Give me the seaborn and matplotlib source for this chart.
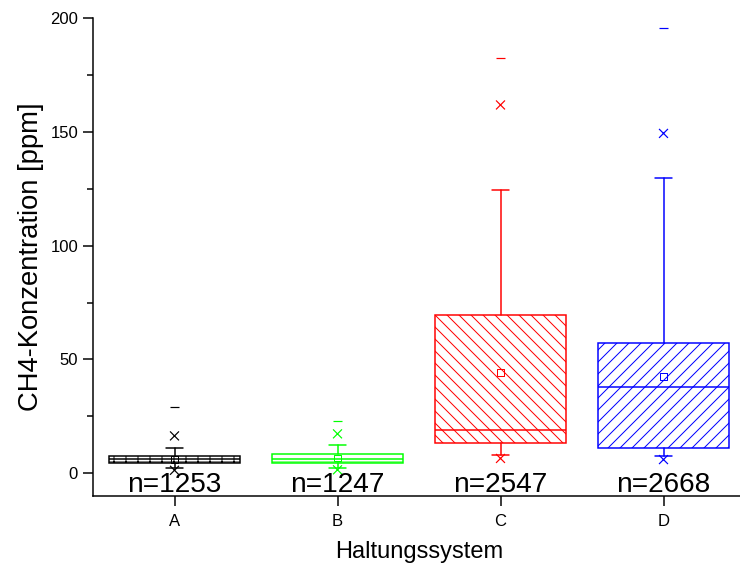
import numpy as np
import pandas as pd
import matplotlib
matplotlib.use("Agg")
import matplotlib.pyplot as plt
import seaborn as sns

# Datos (percentiles de cada sistema)
systems = ["A", "B", "C", "D"]
n_obs = [1253, 1247, 2547, 2668]
q1 = [4.3, 4.3, 13.3, 11.1]
median = [6.2, 6.3, 19.0, 37.7]
q3 = [7.6, 8.4, 69.5, 57.3]
mean = [6.0, 6.7, 44.1, 42.6]
p5 = [2.1, 2.1, 7.9, 7.6]
p95 = [11.3, 12.3, 124.4, 129.7]
p1 = [1.3, 1.5, 6.5, 6.0]
p99 = [16.4, 17.3, 161.8, 149.3]
vmax = [29.3, 23.0, 182.6, 195.7]

colors = ["#000000", "#00ff00", "#ff0000", "#0000ff"]
hatches = ["++", "--", "\\\\\\\\", "////"]

sns.set_theme(style="ticks", rc={"text.color": "black", "axes.labelcolor": "black",
                                 "xtick.color": "black", "ytick.color": "black"})
plt.rcParams["font.family"] = ["Liberation Sans", "DejaVu Sans"]
plt.rcParams["hatch.linewidth"] = 0.5

DPI = 144
fig = plt.figure(figsize=(740 / DPI, 572 / DPI), dpi=DPI)
ax = fig.add_axes([93 / 740, 1 - 496 / 572, 652 / 740, (496 - 18) / 572])

pos = np.arange(len(systems))

# Cajas (percentiles 25-75, bigotes 5-95)
stats = [dict(label=s, q1=a, med=m, q3=b, whislo=lo, whishi=hi, fliers=[])
         for s, a, m, b, lo, hi in zip(systems, q1, median, q3, p5, p95)]
res = ax.bxp(stats, positions=pos, widths=0.8, capwidths=0.11,
             showfliers=False, patch_artist=True, manage_ticks=False)

for i, c in enumerate(colors):
    box = res["boxes"][i]
    box.set_facecolor("none")
    box.set_edgecolor(c)
    box.set_hatch(hatches[i])
    box.set_linewidth(0.75)
    res["medians"][i].set_color(c)
    res["medians"][i].set_linewidth(0.75)
    for art in res["whiskers"][2 * i:2 * i + 2] + res["caps"][2 * i:2 * i + 2]:
        art.set_color(c)
        art.set_linewidth(0.75)

# Marcadores: media, percentiles 1/99 y máximo
df = pd.DataFrame({"system": systems, "pos": pos, "mean": mean,
                   "p1": p1, "p99": p99, "vmax": vmax})
pal = dict(zip(systems, colors))
for col, mk, sz in [("p1", "x", 20), ("p99", "x", 20), ("vmax", "_", 18)]:
    sns.scatterplot(data=df, x="pos", y=col, hue="system", palette=pal,
                    marker=mk, s=sz, linewidth=0.6, legend=False, ax=ax)
pts = sns.scatterplot(data=df, x="pos", y="mean", hue="system", palette=pal,
                      marker="s", s=12, legend=False, ax=ax).collections[-1]
pts.set_edgecolors(colors)
pts.set_facecolors("none")
pts.set_linewidth(0.5)

# Etiquetas n=
for x, n in zip(pos, n_obs):
    ax.text(x, -5.3, f"n={n}", ha="center", va="center", fontsize=14, color="black")

ax.set_xlim(-0.5, 3.5)
ax.set_ylim(-10, 200)
ax.set_xticks(pos)
ax.set_xticklabels(systems)
ax.set_yticks([0, 50, 100, 150, 200])
ax.set_yticks([25, 75, 125, 175], minor=True)
ax.tick_params(axis="both", which="major", direction="out", length=5,
               width=0.75, labelsize=8.3, color="black", pad=2.5)
ax.tick_params(axis="x", which="major", pad=4)
ax.tick_params(axis="y", which="minor", direction="out", length=3,
               width=0.75, color="black")
for side in ["top", "right"]:
    ax.spines[side].set_visible(False)
for side in ["left", "bottom"]:
    ax.spines[side].set_color("black")
    ax.spines[side].set_linewidth(0.75)
ax.set_xlabel("Haltungssystem", fontsize=11.8, labelpad=6)
ax.set_ylabel("CH4-Konzentration [ppm]", fontsize=13.7, labelpad=3)
ax.grid(False)

fig.savefig("out.png", dpi=DPI)
